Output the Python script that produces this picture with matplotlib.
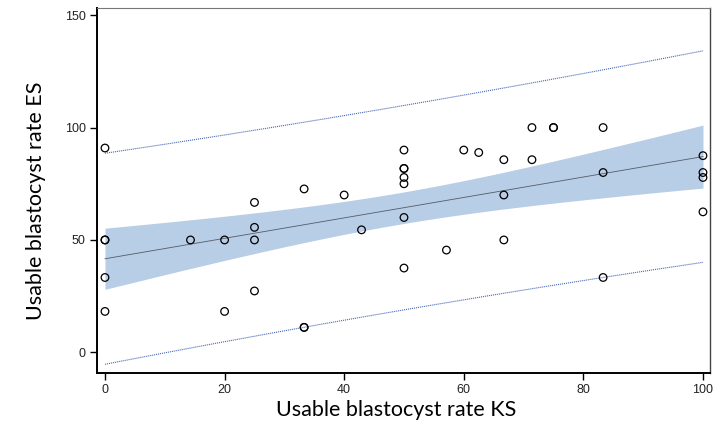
import numpy as np
import matplotlib
matplotlib.use("Agg")
import matplotlib.pyplot as plt

# usable blastocyst rate, KS vs ES (per patient, %)
ks = [0, 0, 0, 0, 0,
      14.3,
      20, 20,
      25, 25, 25, 25,
      33.3, 33.3, 33.3,
      40,
      42.9,
      50, 50, 50, 50, 50, 50, 50,
      57.1,
      60,
      62.5,
      66.7, 66.7, 66.7,
      71.4, 71.4,
      75, 75,
      83.3, 83.3, 83.3,
      100, 100, 100, 100]
es = [90.9, 50, 50, 33.3, 18.2,
      50,
      50, 18.2,
      66.7, 55.6, 50, 27.3,
      72.7, 11.1, 11.1,
      70,
      54.5,
      90, 81.8, 81.8, 77.8, 75, 60, 37.5,
      45.5,
      90,
      88.9,
      85.7, 70, 50,
      85.7, 100,
      100, 100,
      100, 80, 33.3,
      87.5, 80, 77.8, 62.5]

x = np.array(ks)
y = np.array(es)
n = len(x)
b, a = np.polyfit(x, y, 1)
resid = y - (a + b * x)
s = np.sqrt(np.sum(resid ** 2) / (n - 2))
t = 2.023  # t(0.975, df=39)
xm = x.mean()
sxx = np.sum((x - xm) ** 2)

xf = np.linspace(0, 100, 200)
yf = a + b * xf
ci = t * s * np.sqrt(1 / n + (xf - xm) ** 2 / sxx)
pi = t * s * np.sqrt(1 + 1 / n + (xf - xm) ** 2 / sxx)

fig = plt.figure(figsize=(7.13, 4.21), dpi=100)
ax = fig.add_axes([0.136, 0.114, 0.86, 0.867])

ax.fill_between(xf, yf - ci, yf + ci, color="#b8cde6", lw=0, zorder=1)
ax.plot(xf, yf, color="#555c66", lw=0.6, zorder=2)
ax.plot(xf, yf + pi, color="#4a6db5", lw=0.8, ls=(0, (1, 0.8)), zorder=2)
ax.plot(xf, yf - pi, color="#4a6db5", lw=0.8, ls=(0, (1, 0.8)), zorder=2)
ax.scatter(x, y, s=30, facecolors="none", edgecolors="black", linewidths=0.9, zorder=3)

ax.set_xlim(-1.34, 101.2)
ax.set_ylim(-9.2, 153.2)
ax.set_xticks([0, 20, 40, 60, 80, 100])
ax.set_yticks([0, 50, 100, 150])
ax.tick_params(direction="out", length=5, width=1, labelsize=9, pad=3,
               labelcolor="#222222")
for lab in ax.get_xticklabels() + ax.get_yticklabels():
    lab.set_family("Liberation Sans")

ax.spines["left"].set_linewidth(1.4)
ax.spines["bottom"].set_linewidth(1.4)
ax.spines["top"].set_color("#777777")
ax.spines["top"].set_linewidth(0.8)
ax.spines["right"].set_color("#444444")
ax.spines["right"].set_linewidth(1.0)

ax.set_xlabel("Usable blastocyst rate KS", family="Lato", fontsize=15.5)
ax.set_ylabel("Usable blastocyst rate ES", family="Lato", fontsize=15.5)
ax.xaxis.set_label_coords(0.488, -0.075)
ax.yaxis.set_label_coords(-0.083, 0.471)

fig.savefig("out.png", dpi=100)
